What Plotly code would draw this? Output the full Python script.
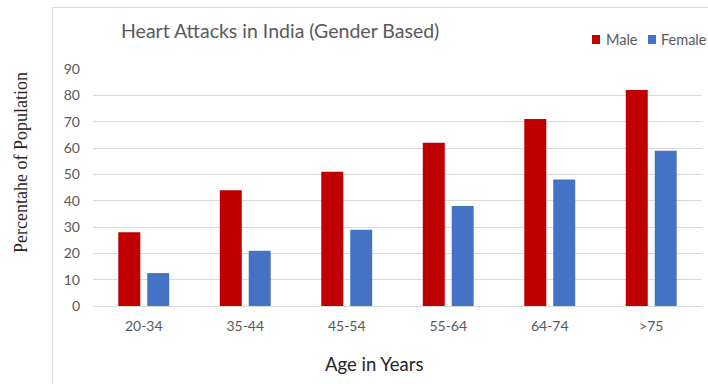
import plotly.graph_objects as go

# Data
age_groups = ["20-34", "35-44", "45-54", "55-64", "64-74", ">75"]
male = [28, 44, 51, 62, 71, 82]
female = [12.5, 21, 29, 38, 48, 59]
y_ticks = [0, 10, 20, 30, 40, 50, 60, 70, 80, 90]

MALE_COLOR = "#C00000"
FEMALE_COLOR = "#4472C4"
GRID = "#D9D9D9"
TEXT_GRAY = "#595959"

W, H = 708, 384
L, R, T, B = 93, 6, 69, 78
PW, PH = W - L - R, H - T - B


def px(x):
    return (x - L) / PW


def py(y):
    return (H - B - y) / PH


fig = go.Figure()
fig.add_trace(go.Bar(x=age_groups, y=male, name="Male", marker_color=MALE_COLOR,
                     marker_line_width=0, showlegend=False))
fig.add_trace(go.Bar(x=age_groups, y=female, name="Female", marker_color=FEMALE_COLOR,
                     marker_line_width=0, showlegend=False))

fig.update_layout(
    width=W, height=H,
    margin=dict(l=L, r=R, t=T, b=B, pad=0),
    paper_bgcolor="white", plot_bgcolor="white",
    barmode="group", bargap=0.43, bargroupgap=0.24,
    font=dict(family="Lato", color=TEXT_GRAY),
    xaxis=dict(
        type="category", range=[-0.5, 5.5], showgrid=False, zeroline=False,
        showline=False, ticks="", tickfont=dict(size=14, color=TEXT_GRAY),
        ticklabelstandoff=10,
    ),
    yaxis=dict(
        range=[0, 90], tickvals=y_ticks, showgrid=True, gridcolor=GRID,
        gridwidth=1, zeroline=True, zerolinecolor=GRID, zerolinewidth=1,
        showline=False, ticks="", tickfont=dict(size=14, color=TEXT_GRAY),
        ticklabelstandoff=12,
    ),
)

# Chart area frame
fig.add_shape(type="rect", xref="paper", yref="paper",
              x0=px(52.5), x1=px(W + 20), y0=py(H + 20), y1=py(7.5),
              line=dict(color=GRID, width=1), fillcolor="rgba(0,0,0,0)", layer="below")

annotations = [
    dict(text="Heart Attacks in India (Gender Based)", x=px(119), y=py(31),
         xanchor="left", yanchor="middle",
         font=dict(family="Lato", size=19.5, color=TEXT_GRAY)),
    dict(text="Age in Years", x=px(374), y=py(364), xanchor="center", yanchor="middle",
         font=dict(family="Lato", size=18.5, color="#262626")),
    dict(text="Percentahe of Population", x=px(21), y=py(163), xanchor="center",
         yanchor="middle", textangle=-90,
         font=dict(family="Liberation Serif", size=18, color="#262626")),
    dict(text="Male", x=px(604), y=py(40), xanchor="left", yanchor="middle",
         font=dict(family="Lato", size=14.5, color=TEXT_GRAY)),
    dict(text="Female", x=px(659), y=py(40), xanchor="left", yanchor="middle",
         font=dict(family="Lato", size=14.5, color=TEXT_GRAY)),
]
for a in annotations:
    fig.add_annotation(xref="paper", yref="paper", showarrow=False, **a)

# Legend swatches
for x0, color in [(592, MALE_COLOR), (648, FEMALE_COLOR)]:
    fig.add_shape(type="rect", xref="paper", yref="paper",
                  x0=px(x0), x1=px(x0 + 8), y0=py(44), y1=py(35),
                  line=dict(width=0), fillcolor=color)

fig.write_html("out.html")
